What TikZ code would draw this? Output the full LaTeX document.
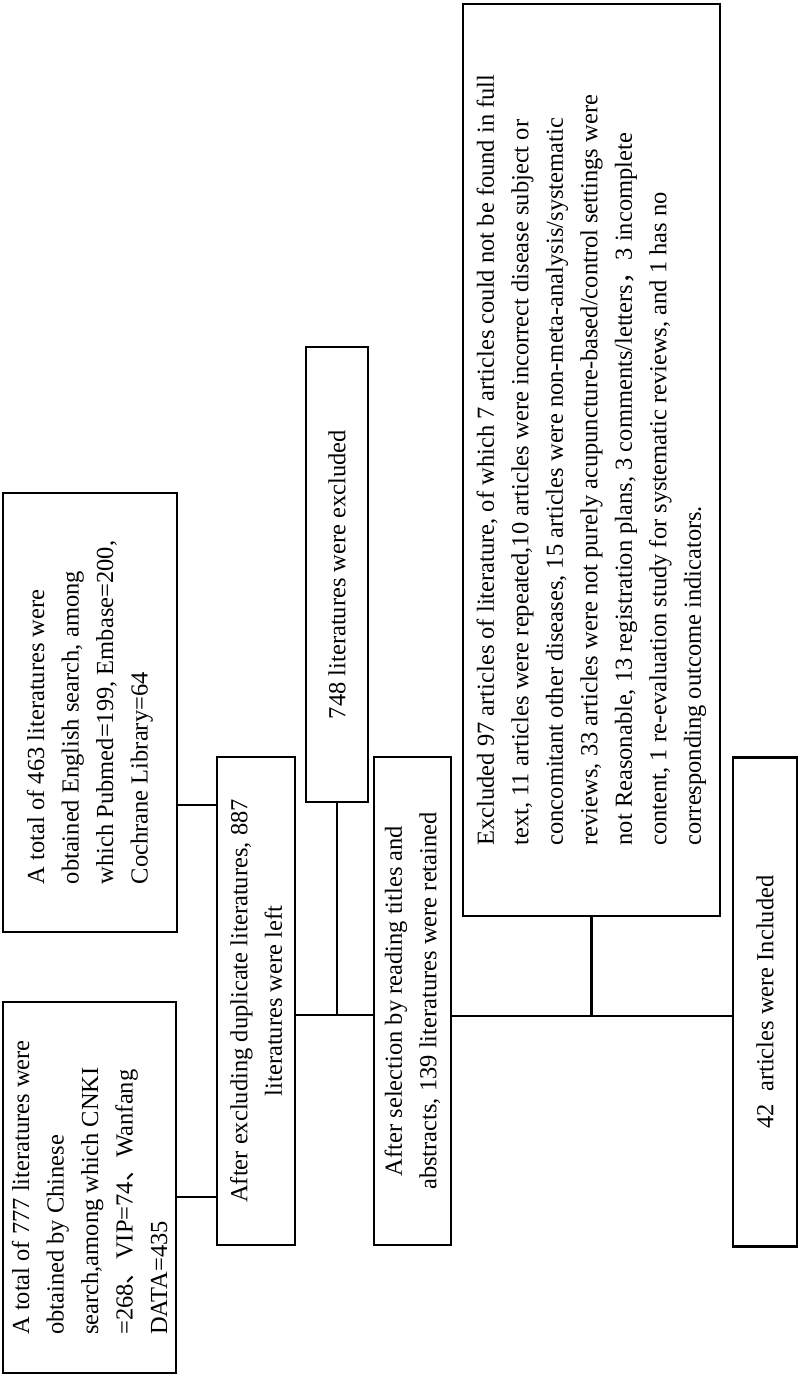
\documentclass[tikz,border=0pt]{standalone}
\usepackage{fontspec}
\setmainfont{Liberation Serif}
\newfontfamily\cjk{Noto Sans CJK SC}
\usetikzlibrary{positioning}
\tikzset{
  block/.style={
    draw,
    rectangle,
    line width=2.4pt,
    rotate=90,
    inner sep=0pt,
    align=left,
    font=\fontsize{24.5}{34.5}\selectfont
  },
  line/.style={line width=2.4pt}
}

\begin{document}
\begin{tikzpicture}[x=1pt,y=-1pt]

					\useasboundingbox (0,0) rectangle (800,1378);

					% search
					\node[block, minimum width=371pt, minimum height=173pt] (chinese) at (89.5,1187.5) {A total of 777 literatures were\\obtained by Chinese\\search,among which CNKI\\=268{\cjk 、}VIP=74{\cjk 、}Wanfang\\DATA=435};
					\node[block, minimum width=439pt, minimum height=174pt] (english) at (90,712.5) {A total of 463 literatures were\\obtained English search, among\\which Pubmed=199, Embase=200,\\Cochrane Library=64};

					% screening
					\node[block, align=center, minimum width=488pt, minimum height=78pt] (dedup) at (256,1001) {After excluding duplicate literatures, 887\\literatures were left};
					\node[block, minimum width=455pt, minimum height=62pt] (excl_first) at (337,574.5) {748 literatures were excluded};
					\node[block, align=center, minimum width=488pt, minimum height=77pt] (retained) at (412.5,1001) {After selection by reading titles and\\abstracts, 139 literatures were retained};
					\node[block, minimum width=912pt, minimum height=257pt] (excl_second) at (591.5,460) {Excluded 97 articles of literature, of which 7 articles could not be found in full\\text, 11 articles were repeated,10 articles were incorrect disease subject or\\concomitant other diseases, 15 articles were non-meta-analysis/systematic\\reviews, 33 articles were not purely acupuncture-based/control settings were\\not Reasonable, 13 registration plans, 3 comments/letters{\cjk ，}3 incomplete\\content, 1 re-evaluation study for systematic reviews, and 1 has no\\corresponding outcome indicators.};
					\node[block, minimum width=489pt, minimum height=64pt] (included) at (765,1002) {42\ \ articles were Included};

					\draw[line] (chinese.south |- 0,1197) -- (dedup.north |- 0,1197);
					\draw[line] (english.south |- 0,805) -- (dedup.north |- 0,805);
					\draw[line] (dedup.south |- 0,1015) -- (retained.north |- 0,1015);
					\draw[line] (excl_first.west) -- (excl_first.west |- 0,1015);
					\draw[line] (retained.south |- 0,1016) -- (included.north |- 0,1016);
					\draw[line] (excl_second.west) -- (excl_second.west |- 0,1016);

				\end{tikzpicture}
\end{document}
